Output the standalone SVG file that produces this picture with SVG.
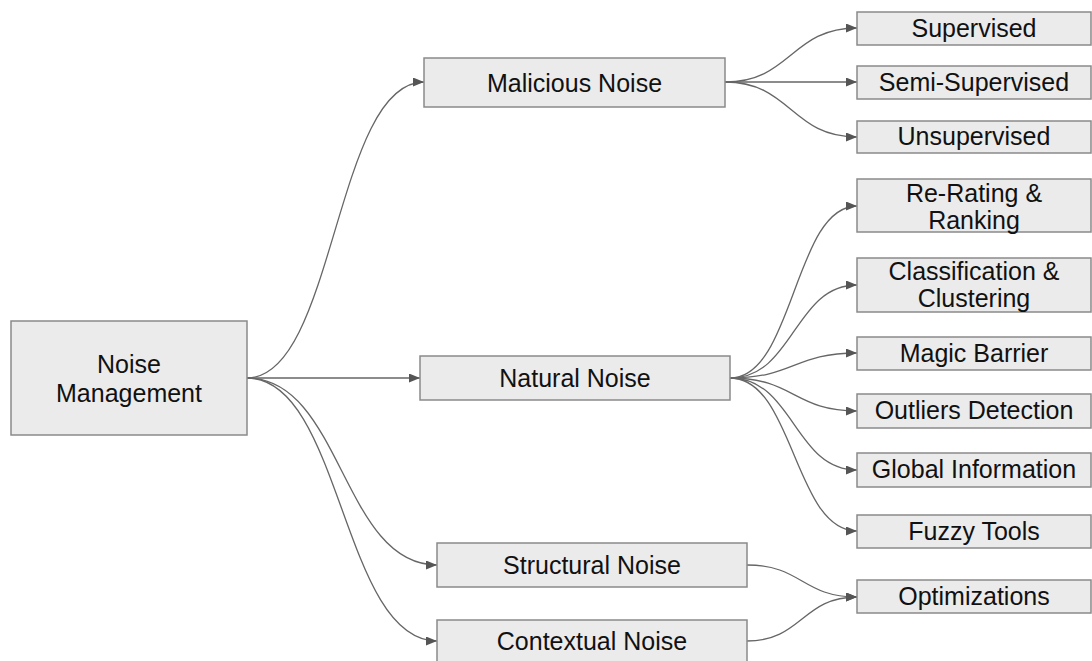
<svg xmlns="http://www.w3.org/2000/svg" width="1092" height="661" viewBox="0 0 1092 661">
  <style>
    .box { fill: #ebebeb; stroke: #8a8a8a; stroke-width: 1.5; }
    .lbl { font-family: "Liberation Sans", Arial, sans-serif; font-size: 25px; fill: #111111; text-anchor: middle; }
    .edge { fill: none; stroke: #666666; stroke-width: 1.3; }
  </style>
  <defs>
    <marker id="arrow" viewBox="0 0 11 9" refX="11" refY="4.5" markerWidth="11" markerHeight="9" markerUnits="userSpaceOnUse" orient="auto">
      <path d="M0,0 L11,4.5 L0,9 Z" fill="#555555"/>
    </marker>
  </defs>
  <rect width="1092" height="661" fill="#ffffff"/>

  <g id="connectors">
    <!-- root to second level -->
    <path class="edge" marker-end="url(#arrow)" d="M247,378 C335,378 335,82 424,82"/>
    <path class="edge" marker-end="url(#arrow)" d="M247,378 L420,378"/>
    <path class="edge" marker-end="url(#arrow)" d="M247,378 C342,378 342,565 437,565"/>
    <path class="edge" marker-end="url(#arrow)" d="M247,378 C342,378 342,641 437,641"/>
    <!-- malicious noise branches -->
    <path class="edge" marker-end="url(#arrow)" d="M725,82 C791,82 791,28 857,28"/>
    <path class="edge" marker-end="url(#arrow)" d="M725,82 L857,82"/>
    <path class="edge" marker-end="url(#arrow)" d="M725,82 C791,82 791,137 857,137"/>
    <!-- natural noise branches -->
    <path class="edge" marker-end="url(#arrow)" d="M730,378 C794,378 794,206 857,206"/>
    <path class="edge" marker-end="url(#arrow)" d="M730,378 C794,378 794,285 857,285"/>
    <path class="edge" marker-end="url(#arrow)" d="M730,378 C794,378 794,353 857,353"/>
    <path class="edge" marker-end="url(#arrow)" d="M730,378 C794,378 794,411 857,411"/>
    <path class="edge" marker-end="url(#arrow)" d="M730,378 C794,378 794,470 857,470"/>
    <path class="edge" marker-end="url(#arrow)" d="M730,378 C794,378 794,531 857,531"/>
    <!-- structural / contextual to optimizations -->
    <path class="edge" marker-end="url(#arrow)" d="M747,565 C802,565 802,597 857,597"/>
    <path class="edge" marker-end="url(#arrow)" d="M747,641 C802,641 802,597 857,597"/>
  </g>

  <g id="noise-management">
    <rect class="box" x="11" y="321" width="236" height="114"/>
    <text class="lbl" x="129" y="373">Noise</text>
    <text class="lbl" x="129" y="402">Management</text>
  </g>

  <g id="malicious-noise">
    <rect class="box" x="424" y="58" width="301" height="49"/>
    <text class="lbl" x="574.5" y="92">Malicious Noise</text>
  </g>

  <g id="natural-noise">
    <rect class="box" x="420" y="356" width="310" height="44"/>
    <text class="lbl" x="575" y="387">Natural Noise</text>
  </g>

  <g id="structural-noise">
    <rect class="box" x="437" y="543" width="310" height="44"/>
    <text class="lbl" x="592" y="574">Structural Noise</text>
  </g>

  <g id="contextual-noise">
    <rect class="box" x="437" y="620" width="310" height="50"/>
    <text class="lbl" x="592" y="650">Contextual Noise</text>
  </g>

  <g id="supervised">
    <rect class="box" x="857" y="12" width="234" height="33"/>
    <text class="lbl" x="974" y="37">Supervised</text>
  </g>

  <g id="semi-supervised">
    <rect class="box" x="857" y="66" width="234" height="33"/>
    <text class="lbl" x="974" y="91">Semi-Supervised</text>
  </g>

  <g id="unsupervised">
    <rect class="box" x="857" y="121" width="234" height="32"/>
    <text class="lbl" x="974" y="145">Unsupervised</text>
  </g>

  <g id="re-rating-ranking">
    <rect class="box" x="857" y="179" width="234" height="53"/>
    <text class="lbl" x="974" y="202">Re-Rating &amp;</text>
    <text class="lbl" x="974" y="229">Ranking</text>
  </g>

  <g id="classification-clustering">
    <rect class="box" x="857" y="258" width="234" height="54"/>
    <text class="lbl" x="974" y="280">Classification &amp;</text>
    <text class="lbl" x="974" y="307">Clustering</text>
  </g>

  <g id="magic-barrier">
    <rect class="box" x="857" y="337" width="234" height="33"/>
    <text class="lbl" x="974" y="362">Magic Barrier</text>
  </g>

  <g id="outliers-detection">
    <rect class="box" x="857" y="394" width="234" height="34"/>
    <text class="lbl" x="974" y="419">Outliers Detection</text>
  </g>

  <g id="global-information">
    <rect class="box" x="857" y="453" width="234" height="34"/>
    <text class="lbl" x="974" y="478">Global Information</text>
  </g>

  <g id="fuzzy-tools">
    <rect class="box" x="857" y="515" width="234" height="33"/>
    <text class="lbl" x="974" y="540">Fuzzy Tools</text>
  </g>

  <g id="optimizations">
    <rect class="box" x="857" y="580" width="234" height="33"/>
    <text class="lbl" x="974" y="605">Optimizations</text>
  </g>
</svg>
